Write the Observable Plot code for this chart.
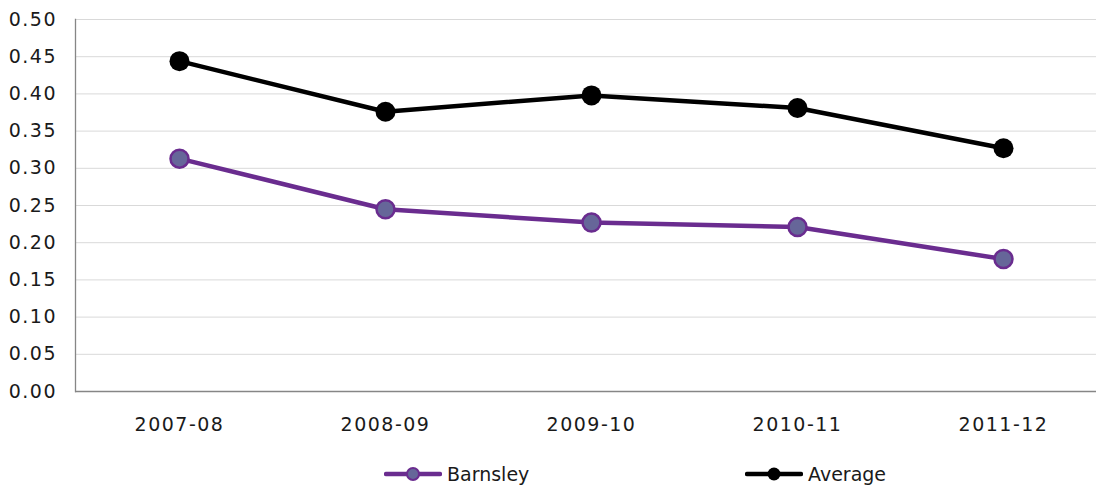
<!DOCTYPE html>
<html><head><meta charset="utf-8">
<script src="https://cdn.jsdelivr.net/npm/d3@7"></script>
<script src="https://cdn.jsdelivr.net/npm/@observablehq/plot@0.6"></script>
<style>
body{margin:0;background:#fff;font-family:"DejaVu Sans",sans-serif;}
#wrap{position:relative;width:1096px;height:488px;overflow:hidden;}
#chart{position:absolute;left:0;top:0;}
#chart svg g[aria-label="y-axis tick label"] text,
#chart svg g[aria-label="x-axis tick label"] text{letter-spacing:1.5px;}
.leg{position:absolute;top:462px;height:24px;display:flex;align-items:center;font-size:19px;color:#1a1a1a;}
.leg svg{display:block;margin-right:5px;}
</style></head><body>
<div id="wrap"><div id="chart"></div>
<div class="leg" style="left:384px"><svg width="58" height="24"><line x1="2" y1="12" x2="56" y2="12" stroke="#6a2c8f" stroke-width="4.5" stroke-linecap="round"/><circle cx="29" cy="12" r="6" fill="#666699" stroke="#6a2c8f" stroke-width="2"/></svg><span>Barnsley</span></div>
<div class="leg" style="left:745px"><svg width="58" height="24"><line x1="2" y1="12" x2="56" y2="12" stroke="#000" stroke-width="4.5" stroke-linecap="round"/><circle cx="29" cy="12" r="6.5" fill="#000"/></svg><span>Average</span></div>
</div>
<script>
const years = ["2007-08", "2008-09", "2009-10", "2010-11", "2011-12"];
const barnsley = [0.313, 0.245, 0.227, 0.221, 0.178];
const average = [0.444, 0.376, 0.398, 0.381, 0.327];
const yTicks = [0, 0.05, 0.10, 0.15, 0.20, 0.25, 0.30, 0.35, 0.40, 0.45, 0.50];

const barnsleyRows = years.map((y, i) => ({year: y, value: barnsley[i]}));
const averageRows = years.map((y, i) => ({year: y, value: average[i]}));

const purple = "#6a2c8f";

const chart = Plot.plot({
  width: 1096,
  height: 450,
  marginTop: 19,
  marginBottom: 59,
  marginLeft: 75,
  marginRight: 0,
  style: {fontFamily: "DejaVu Sans, sans-serif", fontSize: "19px", color: "#1a1a1a", background: "#fff"},
  x: {type: "point", domain: years, range: [75, 1107], padding: 0.5},
  y: {domain: [0, 0.5]},
  marks: [
    Plot.ruleY(yTicks.filter(d => d > 0), {stroke: "#d9d9d9", strokeWidth: 1}),
    Plot.ruleY([0], {stroke: "#868686", strokeWidth: 1.3}),
    Plot.frame({anchor: "left", stroke: "#868686", strokeWidth: 1.3}),
    Plot.axisY({ticks: yTicks, tickFormat: d3.format(".2f"), tickSize: 0, tickPadding: 18.5, label: null, fill: "#1a1a1a", fontSize: 19}),
    Plot.axisX({tickSize: 0, tickPadding: 26, label: null, fill: "#1a1a1a", fontSize: 19}),
    Plot.line(barnsleyRows, {x: "year", y: "value", stroke: purple, strokeWidth: 4.5}),
    Plot.dot(barnsleyRows, {x: "year", y: "value", r: 9, fill: "#666699", stroke: purple, strokeWidth: 2.5}),
    Plot.line(averageRows, {x: "year", y: "value", stroke: "#000", strokeWidth: 4.5}),
    Plot.dot(averageRows, {x: "year", y: "value", r: 10, fill: "#000"})
  ]
});
document.getElementById("chart").appendChild(chart);
</script>
</body></html>
